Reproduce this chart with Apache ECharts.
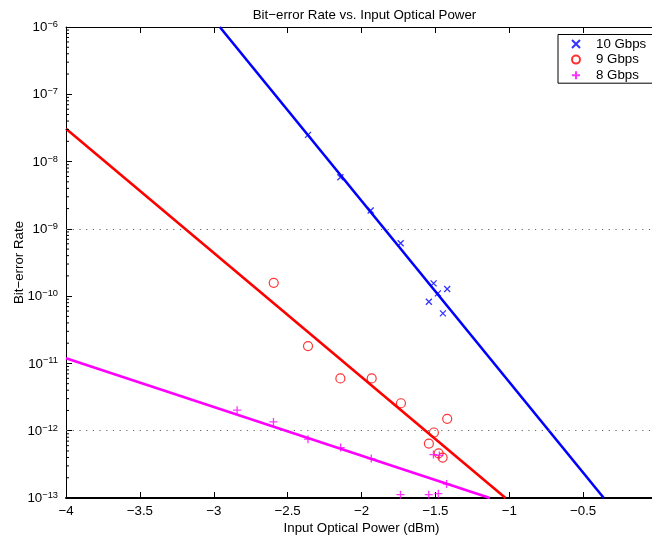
<!DOCTYPE html>
<html>
<head>
<meta charset="utf-8">
<script src="https://cdn.jsdelivr.net/npm/echarts@6/dist/echarts.min.js"></script>
<style>
  html, body { margin: 0; padding: 0; background: #fff; overflow: hidden; }
  #chart { width: 660px; height: 535px; }
</style>
</head>
<body>
<div id="chart"></div>
<script>
// Measured BER points (input optical power in dBm, bit-error rate)
const power10 = [-2.362, -2.143, -1.938, -1.735, -1.512, -1.483, -1.420, -1.544, -1.449];
const ber10   = [2.49e-8, 5.86e-9, 1.87e-9, 6.1e-10, 1.55e-10, 1.10e-10, 1.28e-10, 8.26e-11, 5.55e-11];

const power9 = [-2.594, -2.362, -2.143, -1.931, -1.733, -1.420, -1.510, -1.544, -1.478, -1.451];
const ber9   = [1.58e-10, 1.81e-11, 5.98e-12, 5.98e-12, 2.56e-12, 1.50e-12, 9.4e-13, 6.45e-13, 4.62e-13, 3.99e-13];

const power8 = [-2.842, -2.596, -2.362, -2.141, -1.934, -1.513, -1.473, -1.424, -1.736, -1.545, -1.480];
const ber8   = [2.02e-12, 1.35e-12, 7.48e-13, 5.62e-13, 3.86e-13, 4.42e-13, 4.3e-13, 1.62e-13, 1.12e-13, 1.12e-13, 1.16e-13];

// Fitted lines (end points on the plot border)
const fit10X = [-2.959, -0.360];
const fit10Y = [1e-6, 1e-13];
const fit9X  = [-4, -1.025];
const fit9Y  = [3.07e-8, 1e-13];
const fit8X  = [-4, -1.131];
const fit8Y  = [1.19e-11, 1e-13];

// Axes: x ticks, y decades (exponents), minor tick multipliers, dotted grid levels
const xTicks = [-4, -3.5, -3, -2.5, -2, -1.5, -1, -0.5, 0];
const yExponents = [-13, -12, -11, -10, -9, -8, -7, -6];
const minorMultipliers = [2, 3, 4, 5, 6, 7, 8, 9];
const gridLevels = [1e-9, 1e-12];

const seriesNames = ['10 Gbps', '9 Gbps', '8 Gbps'];
const titleText = 'Bit\u2212error Rate vs. Input Optical Power';
const xName = 'Input Optical Power (dBm)';
const yName = 'Bit\u2212error Rate';

const FONT = 'Liberation Sans, Arial, Helvetica, sans-serif';
const minus = s => String(s).replace('-', '\u2212');

// The y axis is laid out in decades: every rate is placed by its base-10 exponent.
const decade = v => Math.log10(v);
const pairs = (xs, ys) => xs.map((x, i) => [x, decade(ys[i])]);

// log-spaced minor tick positions inside each decade
const minorTickValues = [];
yExponents.slice(0, -1).forEach(e => {
  minorMultipliers.forEach(m => minorTickValues.push([xTicks[0], decade(m * Math.pow(10, e))]));
});

const chart = echarts.init(document.getElementById('chart'));

const xAxisCommon = {
  type: 'value',
  min: xTicks[0],
  max: xTicks[xTicks.length - 1],
  interval: 0.5,
  splitLine: { show: false },
  axisLine: { show: true, onZero: false, lineStyle: { color: '#000', width: 1 } },
  axisTick: { show: true, inside: true, length: 6, lineStyle: { color: '#000' } }
};

chart.setOption({
  animation: false,
  backgroundColor: '#fff',
  textStyle: { fontFamily: FONT },
  title: {
    text: titleText,
    left: 359.5,
    top: 4,
    textAlign: 'center',
    textStyle: { fontFamily: FONT, fontSize: 13.3, fontWeight: 'normal', color: '#000' }
  },
  legend: {
    data: seriesNames,
    orient: 'vertical',
    left: 558,
    top: 34.5,
    padding: [2.5, 40, 1, 13],
    itemGap: 1.6,
    itemWidth: 8,
    itemHeight: 8,
    backgroundColor: '#fff',
    borderColor: '#000',
    borderWidth: 1,
    borderRadius: 0,
    textStyle: { fontFamily: FONT, fontSize: 13.3, color: '#000', lineHeight: 14, padding: [0, 0, 0, 11] }
  },
  grid: { left: 66, top: 27, right: 3, bottom: 37, containLabel: false, outerBoundsMode: 'none' },
  xAxis: [
    Object.assign({}, xAxisCommon, {
      position: 'bottom',
      name: xName,
      nameLocation: 'middle',
      nameGap: 23.5,
      nameMoveOverlap: false,
      nameTextStyle: { fontFamily: FONT, fontSize: 13.3, color: '#000' },
      axisLine: { show: true, onZero: false, lineStyle: { color: '#000', width: 2 } },
      axisLabel: {
        show: true, margin: 6.5, color: '#000', fontFamily: FONT, fontSize: 13.3,
        formatter: v => minus(v)
      }
    }),
    Object.assign({}, xAxisCommon, {
      position: 'top',
      axisLabel: { show: false }
    })
  ],
  yAxis: {
    type: 'value',
    min: yExponents[0],
    max: yExponents[yExponents.length - 1],
    interval: 1,
    name: yName,
    nameLocation: 'middle',
    nameGap: 40,
    nameMoveOverlap: false,
    nameTextStyle: { fontFamily: FONT, fontSize: 13.3, color: '#000' },
    splitLine: { show: false },
    axisLine: { show: true, onZero: false, lineStyle: { color: '#000', width: 1 } },
    axisTick: { show: true, inside: true, length: 6, lineStyle: { color: '#000' } },
    axisLabel: {
      show: true, margin: 8, color: '#000',
      formatter: v => '{b|10}{s|' + minus(v) + '}',
      rich: {
        b: { fontFamily: FONT, fontSize: 13.3, color: '#000', verticalAlign: 'bottom', lineHeight: 14 },
        s: { fontFamily: FONT, fontSize: 9.3, color: '#000', verticalAlign: 'top', padding: [0, 0, 8, 0], lineHeight: 10 }
      }
    }
  },
  series: [
    {
      name: 'grid',
      type: 'line',
      data: [[xTicks[0], decade(gridLevels[0])]],
      showSymbol: false,
      lineStyle: { width: 0 },
      z: 1,
      markLine: {
        silent: true,
        symbol: 'none',
        label: { show: false },
        lineStyle: { color: '#666', width: 1, type: [1.2, 5.5] },
        data: gridLevels.map(v => ({ yAxis: decade(v) }))
      }
    },
    {
      name: 'minor ticks',
      type: 'custom',
      data: minorTickValues,
      silent: true,
      z: 5,
      renderItem: (params, api) => {
        const p = api.coord([api.value(0), api.value(1)]);
        return {
          type: 'line',
          shape: { x1: p[0], y1: p[1], x2: p[0] + 3, y2: p[1] },
          style: { stroke: '#000', lineWidth: 1 }
        };
      }
    },
    {
      name: seriesNames[0] + ' fit',
      type: 'line',
      data: pairs(fit10X, fit10Y),
      showSymbol: false,
      z: 2,
      lineStyle: { color: '#0000ff', width: 2.6 }
    },
    {
      name: seriesNames[1] + ' fit',
      type: 'line',
      data: pairs(fit9X, fit9Y),
      showSymbol: false,
      z: 2,
      lineStyle: { color: '#ff0000', width: 2.6 }
    },
    {
      name: seriesNames[2] + ' fit',
      type: 'line',
      data: pairs(fit8X, fit8Y),
      showSymbol: false,
      z: 2,
      lineStyle: { color: '#ff00ff', width: 2.6 }
    },
    {
      name: seriesNames[0],
      type: 'scatter',
      data: pairs(power10, ber10),
      symbol: 'path://M0,0L10,10M10,0L0,10',
      symbolSize: 6,
      z: 3,
      itemStyle: { color: '#0000ff', borderColor: '#0000ff', borderWidth: 1.3 }
    },
    {
      name: seriesNames[1],
      type: 'scatter',
      data: pairs(power9, ber9),
      symbol: 'circle',
      symbolSize: 9,
      z: 3,
      itemStyle: { color: 'rgba(255,255,255,0)', borderColor: '#ff0000', borderWidth: 1.2 }
    },
    {
      name: seriesNames[2],
      type: 'scatter',
      data: pairs(power8, ber8),
      symbol: 'path://M5,0L5,10M0,5L10,5',
      symbolSize: 8,
      z: 3,
      itemStyle: { color: '#ff00ff', borderColor: '#ff00ff', borderWidth: 1.3 }
    }
  ]
});
</script>
</body>
</html>
